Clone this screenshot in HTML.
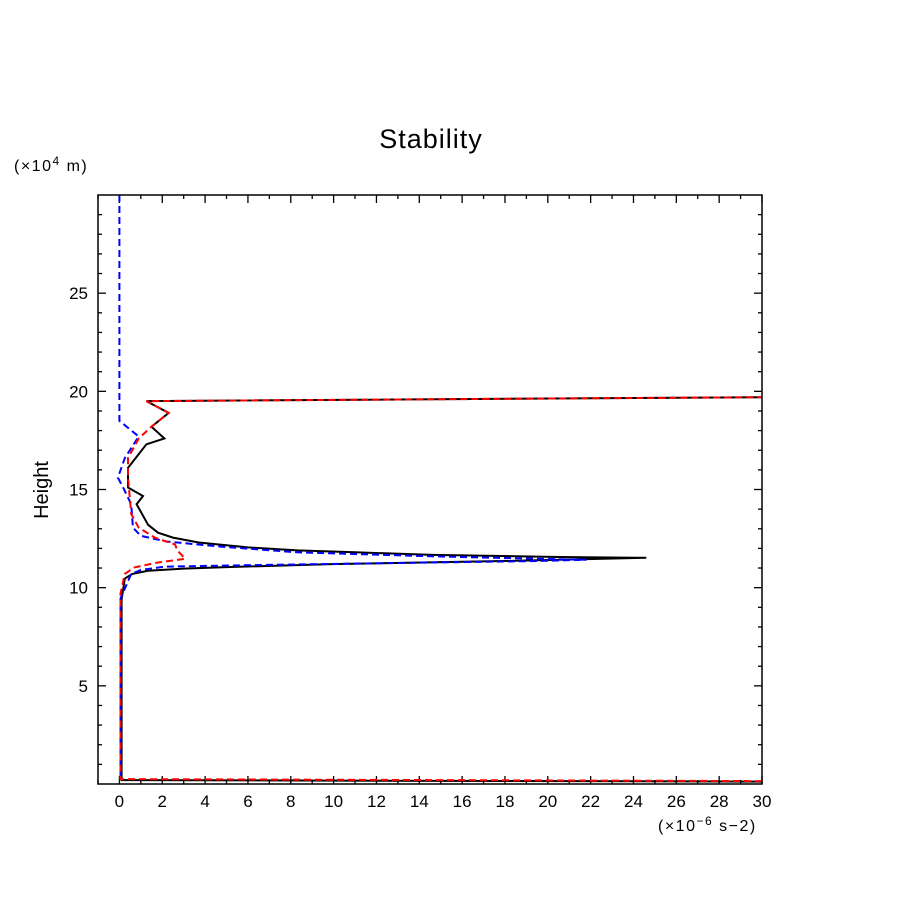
<!DOCTYPE html>
<html><head><meta charset="utf-8"><style>
body{margin:0;background:#fff}
svg text{font-family:"Liberation Sans",sans-serif;fill:#000}
</style></head><body>
<svg id="chart" width="904" height="904" viewBox="0 0 904 904" xmlns="http://www.w3.org/2000/svg">
<rect width="904" height="904" fill="#fff"/>
<text x="431" y="148" font-size="27" text-anchor="middle" letter-spacing="1">Stability</text>
<text x="14" y="171" font-size="16" letter-spacing="1.5">(×10<tspan dy="-6" font-size="12">4</tspan><tspan dy="6"> m)</tspan></text>
<text x="48" y="490" font-size="20" text-anchor="middle" transform="rotate(-90 48 490)">Height</text>
<text x="658" y="831" font-size="16" letter-spacing="1.5">(×10<tspan dy="-6" font-size="12">−6</tspan><tspan dy="6"> s−2)</tspan></text>
<g id="ticks"></g>
<g id="series" clip-path="url(#clip)"></g>
<defs><clipPath id="clip"><rect x="98" y="195" width="664" height="589"/></clipPath></defs>
<rect x="98" y="195" width="664" height="589" fill="none" stroke="#000" stroke-width="1.5"/>
</svg>
<script>
const xTicks=[0,2,4,6,8,10,12,14,16,18,20,22,24,26,28,30];
const yTicks=[5,10,15,20,25];
const blackX=[30,0.1,0.1,0.25,0.6,1.34,3,5,9.9,18.5,24.6,20.5,14.6,11,8.3,6,3.7,2.5,1.8,1.34,0.8,1.1,0.4,0.4,1.26,2.1,1.5,2.3,1.26,1.3,30];
const blackH=[0.12,0.2,9.4,10.46,10.7,10.86,10.97,11.05,11.2,11.37,11.52,11.56,11.67,11.8,11.9,12.05,12.3,12.55,12.8,13.2,14.25,14.67,15.1,16.1,17.3,17.6,18.2,18.9,19.5,19.5,19.7];
const blueX=[0,0,0.9,0.25,-0.07,0.17,0.55,0.63,1.0,2.2,4.6,8.3,14.6,19.7,21.8,19.0,14.6,6.8,3.5,2.1,1.0,0.55,0.05,0.05];
const blueH=[30,18.5,17.7,16.6,15.6,15.1,14.25,13.06,12.64,12.35,12.1,11.8,11.6,11.47,11.42,11.35,11.28,11.16,11.1,11.07,10.9,10.7,9.45,0.3];
const redX=[30,0.05,0.05,0.25,0.7,1.8,3.07,2.7,2.6,1.65,0.9,0.55,0.5,0.4,0.4,0.9,1.5,2.3,1.26,1.3,30];
const redH=[0.15,0.25,9.7,10.7,11.03,11.28,11.47,11.9,12.2,12.55,13.06,13.75,14.4,15.6,16.6,17.6,18.2,18.9,19.5,19.5,19.7];
const X0=98,X1=762,Y0=784,Y1=195,xmin=-1,xmax=30,ymin=0,ymax=30;
function sx(v){return X0+(v-xmin)/(xmax-xmin)*(X1-X0);}
function sy(v){return Y0-(v-ymin)/(ymax-ymin)*(Y0-Y1);}
const NS="http://www.w3.org/2000/svg";
const tg=document.getElementById('ticks');
function ln(x1,y1,x2,y2){const l=document.createElementNS(NS,'line');l.setAttribute('x1',x1);l.setAttribute('y1',y1);l.setAttribute('x2',x2);l.setAttribute('y2',y2);l.setAttribute('stroke','#000');l.setAttribute('stroke-width','1.3');


tg.appendChild(l);}
for(let v=-1;v<=30;v++){const x=sx(v),L=(v%2===0)?8:4;ln(x,Y0,x,Y0-L);ln(x,Y1,x,Y1+L);}
for(let v=1;v<30;v++){const y=sy(v),L=(v%5===0)?8:4;ln(X0,y,X0+L,y);ln(X1,y,X1-L,y);}
xTicks.forEach(v=>{const t=document.createElementNS(NS,'text');t.setAttribute('x',sx(v));t.setAttribute('y',807);t.setAttribute('font-size','17');t.setAttribute('text-anchor','middle');t.textContent=v;


tg.appendChild(t);});
yTicks.forEach(v=>{const t=document.createElementNS(NS,'text');t.setAttribute('x',88);t.setAttribute('y',sy(v)+6);t.setAttribute('font-size','17');t.setAttribute('text-anchor','end');t.textContent=v;


tg.appendChild(t);});
const sg=document.getElementById('series');
function series(xs,hs,color,dash,name){const p=document.createElementNS(NS,'polyline');p.setAttribute('points',xs.map((v,i)=>sx(v).toFixed(1)+','+sy(hs[i]).toFixed(1)).join(' '));p.setAttribute('fill','none');p.setAttribute('stroke',color);p.setAttribute('stroke-width','2');if(dash)p.setAttribute('stroke-dasharray',dash);


sg.appendChild(p);}
series(blackX,blackH,'#000',null,'black-solid-series');
series(blueX,blueH,'#0000ff','7 4','blue-dashed-series');
series(redX,redH,'#ff0000','7 4','red-dashed-series');
</script>
</body></html>
